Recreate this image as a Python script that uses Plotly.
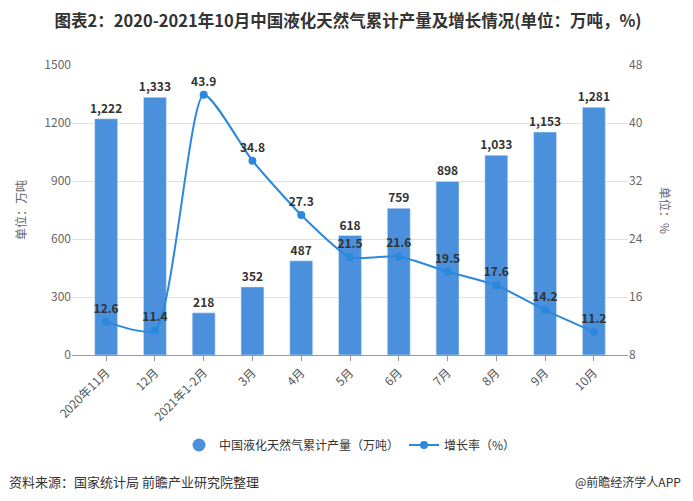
import plotly.graph_objects as go

categories = ["2020年11月", "12月", "2021年1-2月", "3月", "4月", "5月", "6月", "7月", "8月", "9月", "10月"]
output = [1222, 1333, 218, 352, 487, 618, 759, 898, 1033, 1153, 1281]
growth = [12.6, 11.4, 43.9, 34.8, 27.3, 21.5, 21.6, 19.5, 17.6, 14.2, 11.2]
left_ticks = [0, 300, 600, 900, 1200, 1500]
right_ticks = [8, 16, 24, 32, 40, 48]

FONT = "Noto Sans CJK SC"
BAR = "#4a90dd"
LINE = "#2b88dc"

# page is offset by the default 8px body margin
W, H = 685, 493
L, R, T, B = 64, 65, 57, 146
PW, PH = W - L - R, H - T - B


def px(xp):
    return (xp - 8 - L) / PW


def py(yp):
    return (H - B - (yp - 8)) / PH


fig = go.Figure()
fig.add_trace(go.Bar(
    x=categories, y=output, name="中国液化天然气累计产量（万吨）", showlegend=False,
    marker=dict(color=BAR), width=0.47,
    text=[f"{v:,}" for v in output], textposition="outside", constraintext="none",
    textfont=dict(family=FONT, size=12, color="#333333", weight="bold"),
    cliponaxis=False,
))
fig.add_trace(go.Scatter(
    x=[None], y=[None], name="中国液化天然气累计产量（万吨）", mode="markers",
    marker=dict(color=BAR, size=13, symbol="circle"),
))
fig.add_trace(go.Scatter(
    x=categories, y=growth, name="增长率（%）", yaxis="y2",
    mode="lines+markers+text", line=dict(color=LINE, width=2, shape="spline", smoothing=0.6),
    marker=dict(color=LINE, size=8),
    text=[f"{v:.1f}" for v in growth], textposition="top center",
    textfont=dict(family=FONT, size=12, color="#333333", weight="bold"),
    cliponaxis=False,
))

fig.update_layout(
    width=W, height=H,
    paper_bgcolor="white", plot_bgcolor="white",
    margin=dict(l=L, r=R, t=T, b=B),
    font=dict(family=FONT, size=12, color="#555555"),
    title=dict(text="图表2：2020-2021年10月中国液化天然气累计产量及增长情况(单位：万吨，%)",
               x=(348 - 8) / W, xanchor="center", y=1 - (21 - 8) / H, yanchor="middle",
               font=dict(family=FONT, size=16.5, color="#333333", weight="bold")),
    xaxis=dict(range=[-0.7, 10.7], tickangle=-45, showgrid=False,
               showline=True, linecolor="#999999", ticks="outside", ticklen=5, tickcolor="#999999",
               tickfont=dict(size=12, color="#555555")),
    yaxis=dict(range=[0, 1500], tickvals=left_ticks, showgrid=True, gridcolor="#e0e0e0",
               zeroline=False, tickfont=dict(size=12, color="#666666")),
    yaxis2=dict(range=[8, 48], tickvals=right_ticks, overlaying="y", side="right",
                showgrid=False, zeroline=False, tickfont=dict(size=12, color="#666666")),
    legend=dict(orientation="h", x=0.5, xanchor="center", y=py(445), yanchor="middle",
                font=dict(size=12, color="#333333"), itemwidth=30),
    showlegend=True,
)
fig.add_annotation(text="单位：万吨", xref="paper", yref="paper", x=px(20), y=py(210),
                   xanchor="center", yanchor="middle", textangle=-90, showarrow=False,
                   font=dict(size=12, color="#666666"))
fig.add_annotation(text="单位：%", xref="paper", yref="paper", x=px(666), y=py(210),
                   xanchor="center", yanchor="middle", textangle=90, showarrow=False,
                   font=dict(size=12, color="#666666"))
fig.add_annotation(text="资料来源：国家统计局 前瞻产业研究院整理", xref="paper", yref="paper",
                   x=px(7), xanchor="left", y=py(481), yanchor="middle", showarrow=False,
                   font=dict(size=13, color="#333333"))
fig.add_annotation(text="@前瞻经济学人APP", xref="paper", yref="paper",
                   x=px(683), xanchor="right", y=py(481), yanchor="middle", showarrow=False,
                   font=dict(size=12, color="#333333"))

fig.write_html("out.html")
